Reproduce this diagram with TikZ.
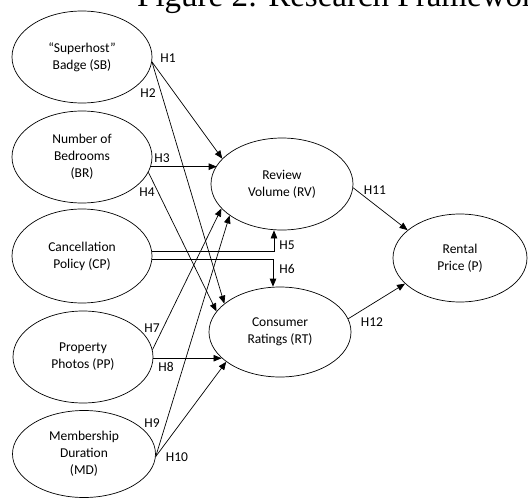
\documentclass[tikz,border=0pt]{standalone}
\usepackage{fontspec}
\setmainfont{Carlito}
\newfontfamily\titlefont{Liberation Serif}
\usetikzlibrary{shapes.geometric,arrows.meta}
\begin{document}
\begin{tikzpicture}[x=1pt,y=-1pt,
  var/.style={draw,ellipse,inner sep=0pt,minimum width=140pt,minimum height=92pt,align=center,font=\fontsize{13.5}{17}\selectfont,line width=0.7pt},
  lab/.style={inner sep=0pt,font=\fontsize{13.5}{16}\selectfont},
  arr/.style={-{Triangle[length=8pt,width=6.5pt]},line width=0.7pt}]
\useasboundingbox (0,0) rectangle (528,498);
\clip (0,0) rectangle (528,498);
\fill[white] (0,0) rectangle (528,498);
\node[anchor=base west,inner sep=0pt,font=\titlefont\fontsize{33}{36}\selectfont] (title) at (137,6) {Figure 2: Research Framework};
% independent variables
\node[var] (SB) at (82,57) {“Superhost”\\Badge (SB)};
\node[var] (BR) at (82,157) {Number of\\Bedrooms\\(BR)};
\node[var,minimum height=94pt] (CP) at (82,256) {Cancellation\\Policy (CP)};
\node[var] (PP) at (83,357) {Property\\Photos (PP)};
\node[var,minimum width=143pt,minimum height=87pt] (MD) at (84,454) {Membership\\Duration\\(MD)};
% mediators
\node[var,minimum width=142pt] (RV) at (282,184) {Review\\Volume (RV)};
\node[var,minimum width=142pt,minimum height=90pt] (RT) at (280,332) {Consumer\\Ratings (RT)};
% dependent
\node[var,minimum width=134pt,minimum height=88pt] (P) at (460,258) {Rental\\Price (P)};
% connectors
\draw[arr] (SB.-4) -- (RV.157);
\draw[arr] (SB.-4) -- (RT.153);
\draw[arr] (BR.-8) -- (BR.-8 -| RV.164);
\draw[arr] (BR.-13) -- (RT.162);
\draw[arr] (CP.4) -| ([xshift=-8pt]RV.south);
\draw[arr] (CP.-3) -| ([xshift=-7pt]RT.north);
\draw[arr] (PP.6) -- (RV.202);
\draw[arr] (PP.-1) -- (PP.-1 -| RT.204);
\draw[arr] (MD.-2) -- (RV.211);
\draw[arr] (MD.-2) -- (RT.209);
\draw[arr] (RV.-3) -- (P.152);
\draw[arr] (RT.11) -- (P.205);
% labels
\node[lab] (h1) at (168,58) {H1};
\node[lab] (h2) at (148,93) {H2};
\node[lab] (h3) at (162,158) {H3};
\node[lab] (h4) at (147,192) {H4};
\node[lab] (h5) at (287,245) {H5};
\node[lab] (h6) at (287,269) {H6};
\node[lab] (h7) at (152,328) {H7};
\node[lab] (h8) at (166,367) {H8};
\node[lab] (h9) at (152,423) {H9};
\node[lab] (h10) at (177,457) {H10};
\node[lab] (h11) at (375,190) {H11};
\node[lab] (h12) at (372,322) {H12};
\end{tikzpicture}
\end{document}
